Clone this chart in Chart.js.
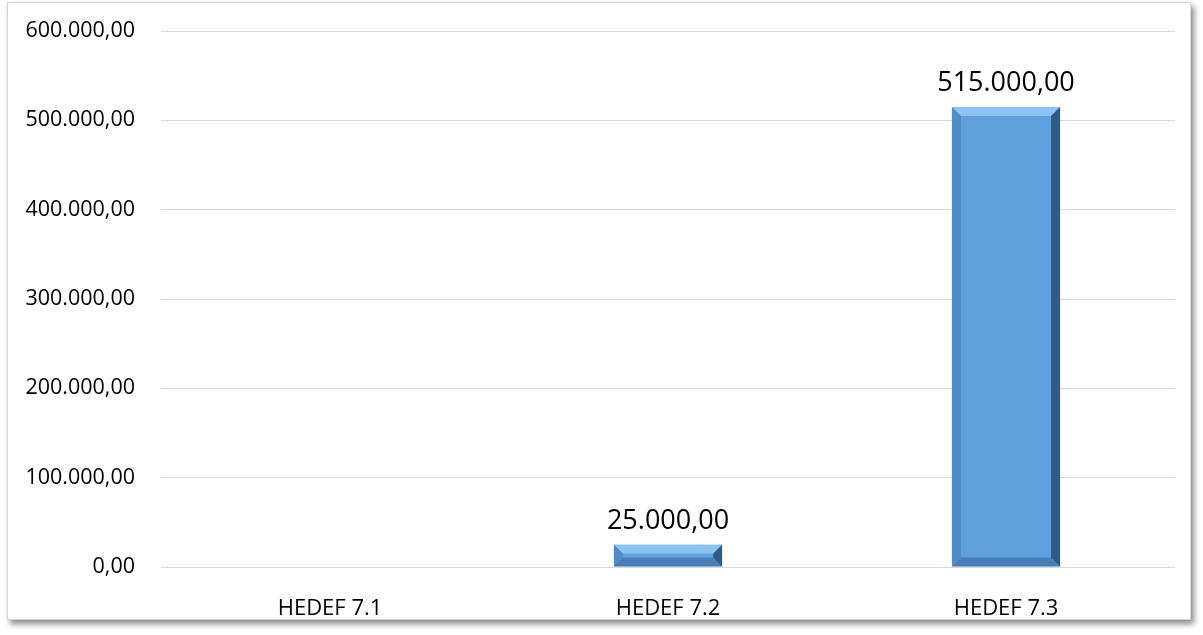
<!DOCTYPE html>
<html>
<head>
<meta charset="utf-8">
<script src="https://cdn.jsdelivr.net/npm/chart.js@4/dist/chart.umd.min.js"></script>
<style>
  html, body { margin: 0; padding: 0; background: #fff; overflow: hidden; }
  #frame {
    position: absolute; left: 7px; top: 2px; width: 1182px; height: 616px;
    border: 1px solid #d4d4d4; box-shadow: 3px 4px 6px #8a8a8a; background: #fff;
  }
  #wrap { position: absolute; left: 0; top: 0; width: 1203px; height: 635px; }
</style>
</head>
<body>
<div id="frame"></div>
<div id="wrap"><canvas id="chart"></canvas></div>
<script>
const categories = ["HEDEF 7.1", "HEDEF 7.2", "HEDEF 7.3"];
const values = [0, 25000, 515000];
const yTicks = [0, 100000, 200000, 300000, 400000, 500000, 600000];

const FONT = "'Open Sans', 'Noto Sans', sans-serif";

// 515000 -> "515.000,00"
function fmtTr(v) {
  const parts = Math.abs(v).toFixed(2).split(".");
  const int = parts[0].replace(/\B(?=(\d{3})+(?!\d))/g, ".");
  return (v < 0 ? "-" : "") + int + "," + parts[1];
}

// bevel shading on each bar, drawn over the element Chart.js placed
const bevelPlugin = {
  id: "bevel",
  afterDatasetsDraw(chart) {
    const ctx = chart.ctx;
    chart.getDatasetMeta(0).data.forEach((bar) => {
      const l = bar.x - bar.width / 2, r = bar.x + bar.width / 2;
      const t = bar.y, b = bar.base;
      const h = b - t;
      if (h < 1) return;
      const e = Math.min(9, h / 2.5);
      ctx.save();
      // top bevel
      ctx.beginPath();
      ctx.moveTo(l, t); ctx.lineTo(r, t); ctx.lineTo(r - e, t + e); ctx.lineTo(l + e, t + e);
      ctx.closePath();
      ctx.fillStyle = "rgba(150,205,248,0.8)";
      ctx.fill();
      // left bevel
      ctx.beginPath();
      ctx.moveTo(l, t); ctx.lineTo(l + e, t + e); ctx.lineTo(l + e, b - e); ctx.lineTo(l, b);
      ctx.closePath();
      ctx.fillStyle = "rgba(60,110,165,0.4)";
      ctx.fill();
      // right bevel
      ctx.beginPath();
      ctx.moveTo(r, t); ctx.lineTo(r - e, t + e); ctx.lineTo(r - e, b - e); ctx.lineTo(r, b);
      ctx.closePath();
      ctx.fillStyle = "rgba(30,60,95,0.7)";
      ctx.fill();
      // bottom bevel
      ctx.beginPath();
      ctx.moveTo(l, b); ctx.lineTo(r, b); ctx.lineTo(r - e, b - e); ctx.lineTo(l + e, b - e);
      ctx.closePath();
      ctx.fillStyle = "rgba(50,95,145,0.5)";
      ctx.fill();
      ctx.restore();
    });
  },
};

// value labels above bars (zero values get none)
const labelPlugin = {
  id: "valueLabels",
  afterDatasetsDraw(chart) {
    const ctx = chart.ctx;
    const ds = chart.data.datasets[0];
    ctx.save();
    ctx.font = "27px " + FONT;
    ctx.fillStyle = "#000";
    ctx.textAlign = "center";
    ctx.textBaseline = "bottom";
    chart.getDatasetMeta(0).data.forEach((bar, i) => {
      const v = ds.data[i];
      if (!v) return;
      ctx.fillText(fmtTr(v), bar.x, bar.y - 10);
    });
    ctx.restore();
  },
};

new Chart(document.getElementById("chart"), {
  type: "bar",
  data: {
    labels: categories,
    datasets: [
      {
        data: values,
        backgroundColor: "#5f9fdc",
        borderWidth: 0,
        barPercentage: 0.32,
        categoryPercentage: 1,
      },
    ],
  },
  options: {
    animation: false,
    responsive: true,
    maintainAspectRatio: false,
    layout: { padding: { top: 31, right: 28, left: 0, bottom: 0 } },
    plugins: { legend: { display: false }, tooltip: { enabled: false } },
    scales: {
      x: {
        grid: { display: false },
        border: { display: false },
        ticks: { color: "#000", font: { family: FONT, size: 22 }, padding: 21 },
        afterFit: (s) => { s.height = 68; },
      },
      y: {
        min: 0,
        max: 600000,
        afterBuildTicks: (s) => { s.ticks = yTicks.map((v) => ({ value: v })); },
        grid: { color: "#d9d9d9", drawTicks: false },
        border: { display: false },
        ticks: {
          color: "#000",
          font: { family: FONT, size: 21.5 },
          padding: 26,
          callback: (v) => fmtTr(v),
        },
        afterFit: (s) => { s.width = 161; s.paddingTop = 0; s.paddingBottom = 0; },
      },
    },
  },
  plugins: [bevelPlugin, labelPlugin],
});
</script>
</body>
</html>
